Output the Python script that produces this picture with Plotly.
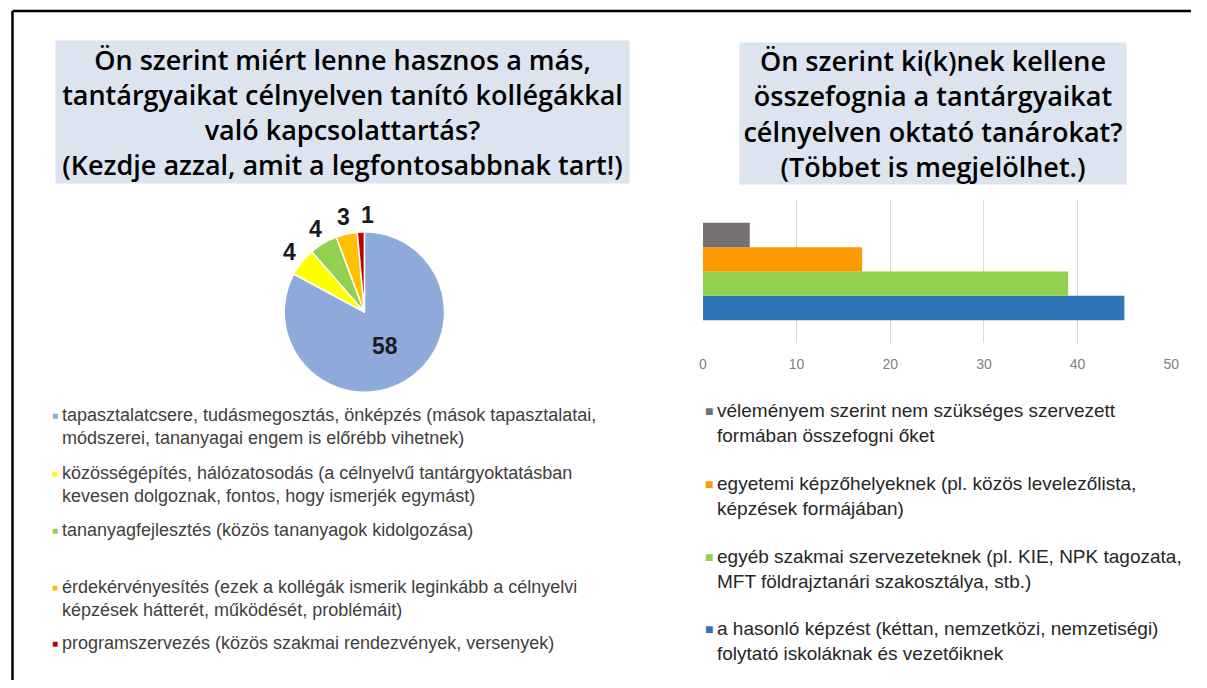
import math

import plotly.graph_objects as go

# the page adds an 8px body margin, so the figure is drawn 8px in from the window edge
OFF = 8
W, H = 1207 - 2 * OFF, 688 - 2 * OFF

left_title = ("Ön szerint miért lenne hasznos a más,<br>tantárgyaikat célnyelven tanító kollégákkal"
              "<br>való kapcsolattartás?<br>(Kezdje azzal, amit a legfontosabbnak tart!)")
right_title = ("Ön szerint ki(k)nek kellene<br>összefognia a tantárgyaikat"
               "<br>célnyelven oktató tanárokat?<br>(Többet is megjelölhet.)")

# pie: reasons (clockwise from 12 o'clock)
pie_labels = [
    "tapasztalatcsere, tudásmegosztás, önképzés (mások tapasztalatai,<br>módszerei, tananyagai engem is előrébb vihetnek)",
    "közösségépítés, hálózatosodás (a célnyelvű tantárgyoktatásban<br>kevesen dolgoznak, fontos, hogy ismerjék egymást)",
    "tananyagfejlesztés (közös tananyagok kidolgozása)",
    "érdekérvényesítés (ezek a kollégák ismerik leginkább a célnyelvi<br>képzések hátterét, működését, problémáit)",
    "programszervezés (közös szakmai rendezvények, versenyek)",
]
pie_values = [58, 4, 4, 3, 1]
pie_colors = ["#8EAADB", "#FFFF00", "#92D050", "#FFC000", "#C00000"]

# bars: bottom to top
bar_labels = [
    "a hasonló képzést (kéttan, nemzetközi, nemzetiségi)<br>folytató iskoláknak és vezetőiknek",
    "egyéb szakmai szervezeteknek (pl. KIE, NPK tagozata,<br>MFT földrajztanári szakosztálya, stb.)",
    "egyetemi képzőhelyeknek (pl. közös levelezőlista,<br>képzések formájában)",
    "véleményem szerint nem szükséges szervezett<br>formában összefogni őket",
]
bar_values = [45, 39, 17, 5]
bar_colors = ["#2E75B6", "#92D050", "#FF9900", "#767171"]
x_ticks = [0, 10, 20, 30, 40, 50]


def px(x):
    return (x - OFF) / W


def py(y):
    return 1 - (y - OFF) / H


fig = go.Figure()

pie_cx, pie_cy, pie_r = 364, 312, 81
fig.add_trace(go.Pie(
    labels=pie_labels,
    values=pie_values,
    sort=False,
    direction="clockwise",
    rotation=0,
    marker=dict(colors=pie_colors, line=dict(color="white", width=1.5)),
    textinfo="value",
    textposition=["inside", "none", "none", "none", "none"],
    insidetextfont=dict(family="Liberation Sans", size=23, color="#1a1a1a", weight="bold"),
    insidetextorientation="horizontal",
    domain=dict(x=[px(pie_cx - pie_r), px(pie_cx + pie_r)],
                y=[py(pie_cy + pie_r), py(pie_cy - pie_r)]),
    showlegend=False,
    hoverinfo="label+value",
))

# outside value labels for the small slices, placed on each slice's mid angle
total = sum(pie_values)
cum = 0
for i, v in enumerate(pie_values):
    mid = (cum + v / 2) / total * 2 * math.pi
    cum += v
    if i == 0:
        continue
    d = pie_r + 16
    fig.add_annotation(text=str(v), xref="paper", yref="paper",
                       x=px(pie_cx + d * math.sin(mid)), y=py(pie_cy - d * math.cos(mid)),
                       xanchor="center", yanchor="middle", showarrow=False,
                       xshift=7 if v / total < 0.02 else 0,
                       font=dict(family="Liberation Sans", size=23, color="#1a1a1a", weight="bold"))

fig.add_trace(go.Bar(
    x=bar_values,
    y=bar_labels,
    orientation="h",
    marker=dict(color=bar_colors, line=dict(width=0)),
    width=1,
    showlegend=False,
    hovertemplate="%{y}: %{x}<extra></extra>",
))

fig.update_layout(
    width=W,
    height=H,
    autosize=False,
    margin=dict(l=0, r=0, t=0, b=0),
    paper_bgcolor="white",
    plot_bgcolor="white",
    xaxis=dict(
        domain=[px(706), px(1179)],
        range=[0, 50],
        tickvals=x_ticks,
        showgrid=True,
        gridcolor="#D9D9D9",
        gridwidth=1,
        zeroline=False,
        showline=False,
        ticks="",
        ticklabelstandoff=11,
        tickfont=dict(family="Liberation Sans", size=14, color="#7F7F7F"),
    ),
    yaxis=dict(
        domain=[py(343), py(200)],
        type="category",
        categoryorder="array",
        categoryarray=bar_labels,
        range=[-1.44, 4.44],
        showticklabels=False,
        showgrid=False,
        zeroline=False,
        showline=False,
        ticks="",
    ),
)

# frame (top and left edge of the cropped slide)
fig.add_shape(type="line", xref="paper", yref="paper",
              x0=px(8.5), y0=py(11), x1=1, y1=py(11), line=dict(color="black", width=2.5))
fig.add_shape(type="line", xref="paper", yref="paper",
              x0=px(8.5), y0=py(11), x1=px(8.5), y1=0, line=dict(color="black", width=2.5))

title_font = dict(family="Open Sans", size=27, color="black", weight=600)
fig.add_annotation(text=left_title, xref="paper", yref="paper",
                   x=px(341.5), y=py(112), xanchor="center", yanchor="middle",
                   width=573, height=142, bgcolor="#DCE4F0", borderpad=0,
                   showarrow=False, align="center", font=title_font)
fig.add_annotation(text=right_title, xref="paper", yref="paper",
                   x=px(938), y=py(113.5), xanchor="center", yanchor="middle",
                   width=386, height=141, bgcolor="#DCE4F0", borderpad=0,
                   showarrow=False, align="center", font=title_font)

# left legend (pie)
left_y = [415, 473, 530, 587, 643]
for lab, col, y in zip(pie_labels, pie_colors, left_y):
    fig.add_annotation(text="■", xref="paper", yref="paper", x=px(51), y=py(y),
                       xanchor="center", yanchor="middle", showarrow=False,
                       font=dict(size=10, color=col))
    fig.add_annotation(text=lab, xref="paper", yref="paper", x=px(56), y=py(y - 12),
                       xanchor="left", yanchor="top", showarrow=False, align="left",
                       font=dict(family="Liberation Sans", size=18, color="#404040"))

# right legend (bars), top to bottom
right_y = [410, 483, 556, 628]
for lab, col, y in zip(bar_labels[::-1], bar_colors[::-1], right_y):
    fig.add_annotation(text="■", xref="paper", yref="paper", x=px(712), y=py(y),
                       xanchor="center", yanchor="middle", showarrow=False,
                       font=dict(size=14, color=col))
    fig.add_annotation(text=lab, xref="paper", yref="paper", x=px(718), y=py(y - 12),
                       xanchor="left", yanchor="top", showarrow=False, align="left",
                       font=dict(family="Liberation Sans", size=19, color="#262626"))

fig.write_html("out.html")
